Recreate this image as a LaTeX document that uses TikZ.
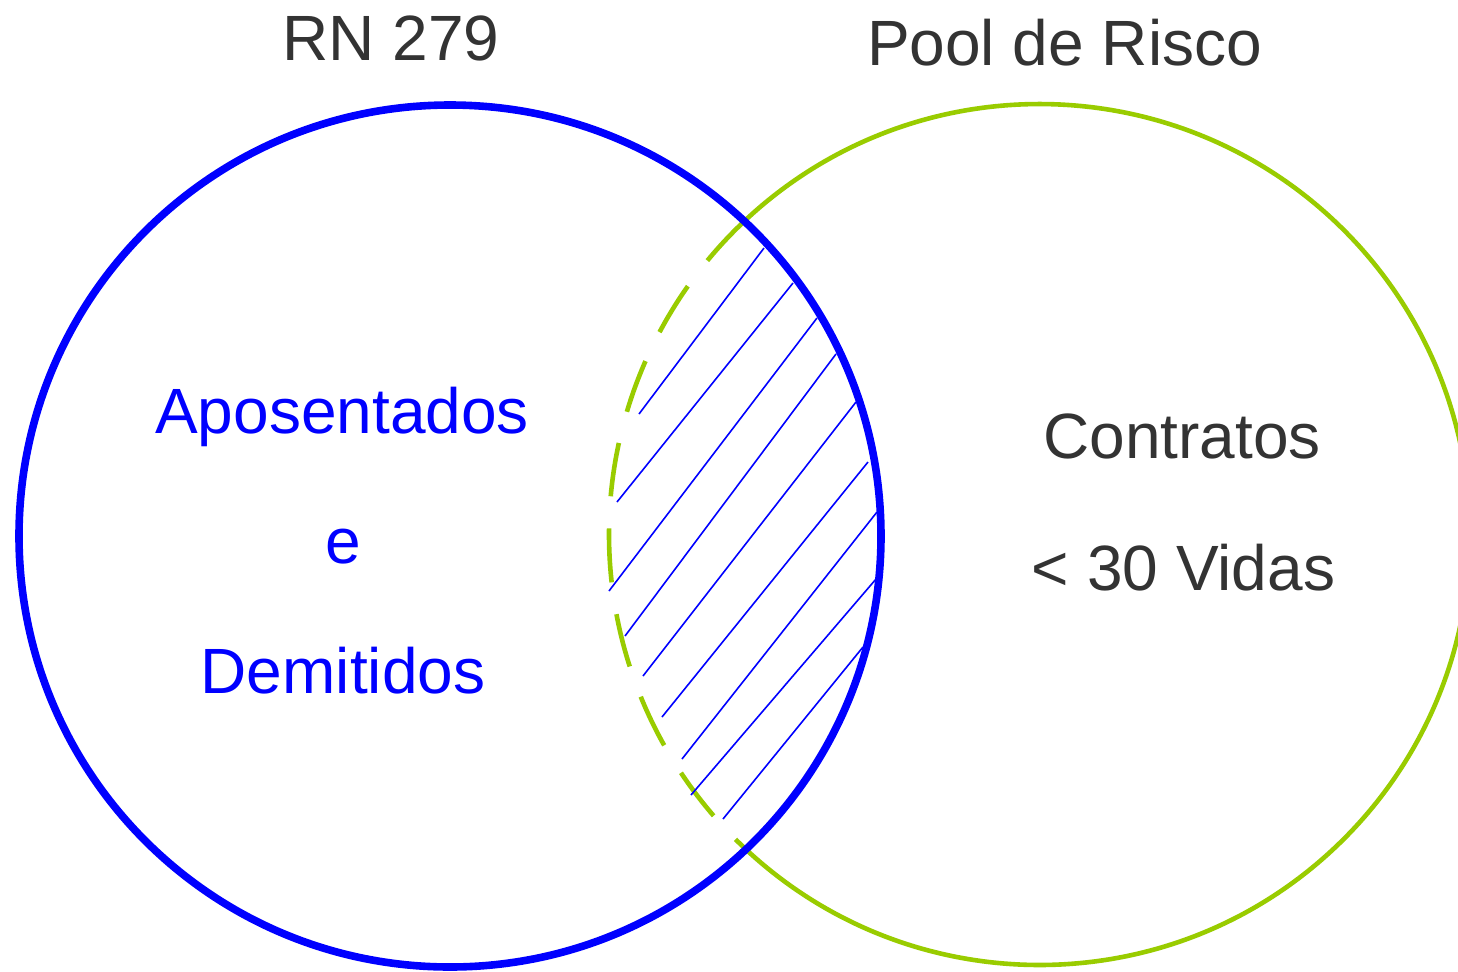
\documentclass[tikz,border=0pt]{standalone}
\usepackage{fontspec}
\setmainfont{Liberation Sans}
\definecolor{ringblue}{HTML}{0000FF}
\definecolor{ringgreen}{HTML}{99CC00}
\definecolor{labelgray}{HTML}{333333}
\begin{document}
\begin{tikzpicture}[x=0.5pt,y=-0.5pt,
  bluering/.style={draw=ringblue,line width=3.8pt},
  greenring/.style={draw=ringgreen,line width=2.3pt},
  greendash/.style={draw=ringgreen,line width=2.3pt,dash pattern=on 27pt off 16.1pt},
  hatchline/.style={draw=ringblue,line width=0.8pt},
  title/.style={inner sep=0pt,anchor=base,text=labelgray,font=\fontsize{32}{38}\selectfont},
  bluelabel/.style={inner sep=0pt,anchor=base,text=ringblue,font=\fontsize{32}{38}\selectfont},
  graylabel/.style={inner sep=0pt,anchor=base,text=labelgray,font=\fontsize{32}{38}\selectfont}]
\useasboundingbox[fill=white] (0,0) rectangle (1458,971);
% green circle: solid outside, dashed inside the blue circle
\coordinate (gc) at (1039.5,534.5);
\draw[greenring] ([shift={(225.1:430.5 and -430.5)}]gc) arc[start angle=225.1,end angle=493.3,x radius=430.5,y radius=-430.5];
\draw[greendash] ([shift={(133.3:430.5 and -430.5)}]gc) arc[start angle=133.3,end angle=225.1,x radius=430.5,y radius=-430.5];
% hatching
\foreach \ax/\ay/\bx/\by [count=\i] in {639/414/764/248, 617/502/793/283, 609/591/817/318, 625/636/836/354, 643/676/856/402, 662/717/868/462, 682/759/877/512, 691/795/876/579, 723/819/863/647}{
  \coordinate (h\i a) at (\ax,\ay);
  \coordinate (h\i b) at (\bx,\by);
  \draw[hatchline] (h\i a) -- (h\i b);
}
% blue circle
\coordinate (bc) at (450,536);
\draw[bluering] (bc) circle[radius=431];
% labels
\node[title] (rn) at (391,60) {RN 279};
\node[title] (pool) at (1064.5,65) {Pool de Risco};
\node[bluelabel] (apos) at (342,433) {Aposentados};
\node[bluelabel] (e) at (343,563) {e};
\node[bluelabel] (demi) at (343,693) {Demitidos};
\node[graylabel] (contr) at (1182,458) {Contratos};
\node[graylabel] (vidas) at (1183.5,590) {< 30 Vidas};
\end{tikzpicture}
\end{document}
